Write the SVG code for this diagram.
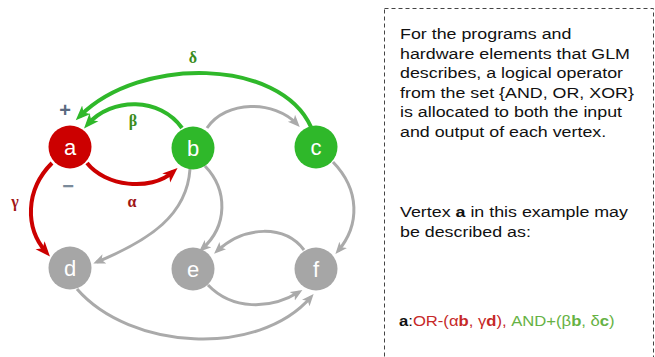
<svg xmlns="http://www.w3.org/2000/svg" width="655" height="357" viewBox="0 0 655 357">
<style>
.edge{fill:none;stroke-linecap:butt}
.red{stroke:#cc0000;stroke-width:4}
.green{stroke:#2fb82a;stroke-width:4}
.gray{stroke:#aaaaaa;stroke-width:3}
.node text{font-family:"Liberation Sans",Arial,sans-serif;font-size:22px;fill:#ffffff;text-anchor:middle}
.lbl{font-family:"Liberation Serif","Times New Roman",serif;font-weight:bold;font-size:16px;text-anchor:middle}
.sign{font-family:"Liberation Sans",Arial,sans-serif;font-weight:bold;font-size:20px;text-anchor:middle}
.body{font-family:"Liberation Sans",Arial,sans-serif;font-size:15px;fill:#111111}
.rd{fill:#c62828}
.gn{fill:#66b244}
.bd{font-weight:bold}
</style>
<defs>
<marker id="arR" markerUnits="userSpaceOnUse" markerWidth="16" markerHeight="14" refX="9" refY="7" orient="auto"><path d="M0,1 L15,7 L0,13 L4,7 z" fill="#cc0000"/></marker>
<marker id="arG" markerUnits="userSpaceOnUse" markerWidth="16" markerHeight="14" refX="9" refY="7" orient="auto"><path d="M0,1 L15,7 L0,13 L4,7 z" fill="#2fb82a"/></marker>
<marker id="arK" markerUnits="userSpaceOnUse" markerWidth="13" markerHeight="11" refX="8" refY="5" orient="auto"><path d="M0,0 L12,5 L0,10 L3,5 z" fill="#aaaaaa"/></marker>
</defs>
<rect x="384.5" y="8.5" width="269" height="360" fill="none" stroke="#444" stroke-width="1" stroke-dasharray="4 3"/>
<g id="connectors">
<path class="edge gray" d="M207 128 C226 100 274 100 297 124" marker-end="url(#arK)"/>
<path class="edge gray" d="M190 169 C187 215 150 240 97 262" marker-end="url(#arK)"/>
<path class="edge gray" d="M205 166 C228 190 228 226 202 249" marker-end="url(#arK)"/>
<path class="edge gray" d="M333 162 C360 190 360 225 338 251" marker-end="url(#arK)"/>
<path class="edge gray" d="M304 250 C285 225 245 225 217 251" marker-end="url(#arK)"/>
<path class="edge gray" d="M208 285 C232 310 270 310 299 292" marker-end="url(#arK)"/>
<path class="edge gray" d="M77 289 C130 350 258 358 311 297" marker-end="url(#arK)"/>
<path class="edge green" d="M311 127 C280 58 140 56 80 116" marker-end="url(#arG)"/>
<path class="edge green" d="M182 128 C160 97 112 97 88 124" marker-end="url(#arG)"/>
<path class="edge red" d="M87 163 C105 186 150 192 173 172" marker-end="url(#arR)"/>
<path class="edge red" d="M52 163 C25 190 25 228 46 252" marker-end="url(#arR)"/>
</g>
<g id="edge-labels">
<text class="lbl" x="193" y="63" fill="#3a8c1c">δ</text>
<text class="lbl" x="133" y="126" fill="#3a8c1c">β</text>
<text class="lbl" x="132" y="207" fill="#a01515">α</text>
<text class="lbl" x="15" y="207" fill="#a01515">γ</text>
<text class="sign" x="65" y="117" fill="#5a6a80">+</text>
<text class="sign" x="68" y="193" fill="#7a8a9a">−</text>
</g>
<g id="node-a" class="node"><circle cx="70" cy="147" r="21.5" fill="#cc0000"/><text x="70" y="155">a</text></g>
<g id="node-b" class="node"><circle cx="193" cy="148" r="21.5" fill="#2fb82a"/><text x="193" y="156">b</text></g>
<g id="node-c" class="node"><circle cx="316" cy="147" r="21.5" fill="#2fb82a"/><text x="316" y="155">c</text></g>
<g id="node-d" class="node"><circle cx="70" cy="268" r="21.5" fill="#a6a6a6"/><text x="70" y="276">d</text></g>
<g id="node-e" class="node"><circle cx="193" cy="269" r="21.5" fill="#a6a6a6"/><text x="193" y="277">e</text></g>
<g id="node-f" class="node"><circle cx="316" cy="269" r="21.5" fill="#a6a6a6"/><text x="316" y="277">f</text></g>
<g id="description" transform="translate(400,0) scale(1.19,1)">
<text class="body" x="0" y="39.5">For the programs and</text>
<text class="body" x="0" y="59">hardware elements that GLM</text>
<text class="body" x="0" y="78.5">describes, a logical operator</text>
<text class="body" x="0" y="98">from the set {AND, OR, XOR}</text>
<text class="body" x="0" y="117.5">is allocated to both the input</text>
<text class="body" x="0" y="137">and output of each vertex.</text>
<text class="body" x="0" y="217.5">Vertex <tspan class="bd">a</tspan> in this example may</text>
<text class="body" x="0" y="237">be described as:</text>
</g>
<g id="formula" transform="translate(399,0) scale(1.11,1)">
<text class="body" x="0" y="326"><tspan class="bd">a</tspan>:<tspan class="rd">OR-(α</tspan><tspan class="rd bd">b</tspan><tspan class="rd">, γ</tspan><tspan class="rd bd">d</tspan><tspan class="rd">), </tspan><tspan class="gn">AND+(β</tspan><tspan class="gn bd">b</tspan><tspan class="gn">, δ</tspan><tspan class="gn bd">c</tspan><tspan class="gn">)</tspan></text>
</g>
</svg>
